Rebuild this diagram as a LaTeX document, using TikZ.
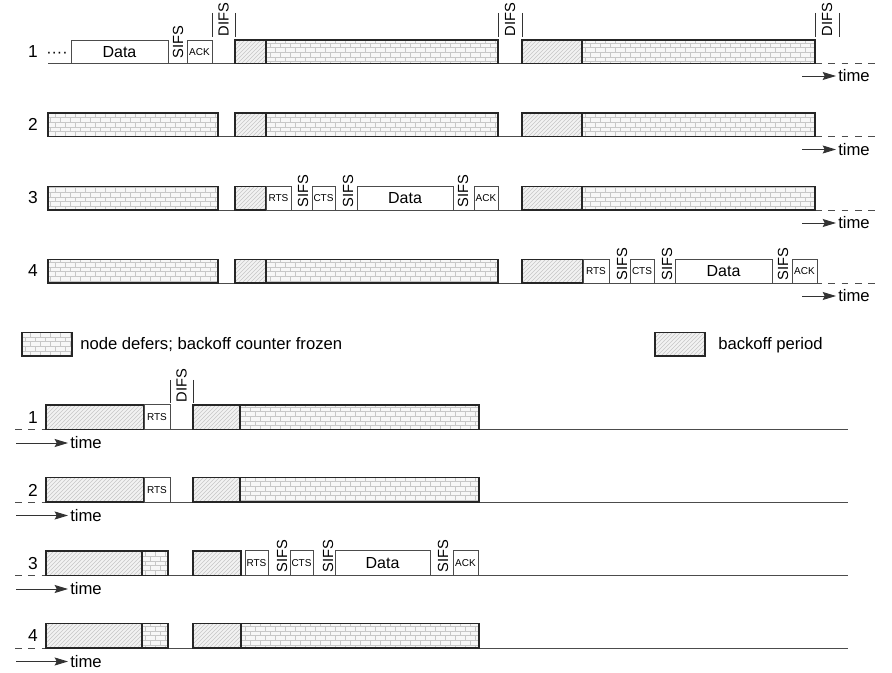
\documentclass[tikz,border=0pt]{standalone}
\usepackage{fontspec}
\setmainfont{Liberation Sans}
\usetikzlibrary{patterns,arrows.meta,positioning}
\pgfdeclarepatternformonly{brickwall}{\pgfqpoint{-0.5pt}{-0.5pt}}{\pgfqpoint{8pt}{7.5pt}}{\pgfqpoint{7.5pt}{7pt}}{%
  \pgfsetlinewidth{0.5pt}
  \pgfpathmoveto{\pgfqpoint{0pt}{0pt}}\pgfpathlineto{\pgfqpoint{7.5pt}{0pt}}
  \pgfpathmoveto{\pgfqpoint{0pt}{3.5pt}}\pgfpathlineto{\pgfqpoint{7.5pt}{3.5pt}}
  \pgfpathmoveto{\pgfqpoint{0pt}{0pt}}\pgfpathlineto{\pgfqpoint{0pt}{3.5pt}}
  \pgfpathmoveto{\pgfqpoint{3.75pt}{3.5pt}}\pgfpathlineto{\pgfqpoint{3.75pt}{7pt}}
  \pgfusepath{stroke}}

\begin{document}
\begin{tikzpicture}[x=0.75pt,y=-0.75pt,font=\fontsize{12}{14}\selectfont,
  slot/.style={anchor=south west,inner sep=0pt,outer sep=0pt,minimum height=17.5pt},
  bw/.style={minimum width={#1*0.75pt}},
  defer/.style={slot,draw=black!85,line width=1pt,preaction={fill=black!3},pattern=brickwall,pattern color=black!22},
  bkoff/.style={slot,draw=black!85,line width=1pt,preaction={fill=black!5},pattern=north east lines,pattern color=black!22},
  msg/.style={slot,draw=black!70,fill=white,line width=0.6pt},
  smalltxt/.style={font=\fontsize{7.5}{8}\selectfont},
  ifs/.style={rotate=90,anchor=west,inner sep=0.5pt,font=\fontsize{11}{12}\selectfont},
  rowno/.style={font=\fontsize{13}{14}\selectfont},
  axis/.style={draw=black!70,line width=0.7pt},
  fut/.style={axis,dash pattern=on 5pt off 5pt},
  difsbar/.style={draw=black!80,line width=0.6pt},
  tarr/.style={-{Stealth[length=10pt,width=6pt,inset=1.5pt]},draw=black!80,line width=0.7pt},
  tlbl/.style={anchor=west,inner sep=1.5pt,font=\fontsize{12.5}{14}\selectfont}]
\useasboundingbox (0,0) rectangle (892,673);

% basic access, station 1 .. 4
\begin{scope}[shift={(0,63.5)}]
\draw[axis] (48,0) -- (815,0);
\draw[fut] (815,0) -- (876,0);
\node[rowno] (n1) at (33,-12) {1};
\node[anchor=base west,inner sep=0pt] (dots1) at (46,-6) {····};
\node[msg,bw=97] (data1) at (71,0) {Data};
\node[ifs] (sifs1) at (178,-4) {SIFS};
\node[msg,smalltxt,bw=25] (ack1) at (187,0) {ACK};
\draw[difsbar] (212,-50.5) -- (212,-26.5) (235,-50.5) -- (235,-26.5);
\node[ifs] (difs1a) at (223.5,-26.5) {DIFS};
\node[bkoff,bw=31] (bo1a) at (235,0) {};
\node[defer,bw=232,right=0pt of bo1a] (fz1a) {};
\draw[difsbar] (498,-50.5) -- (498,-26.5) (522,-50.5) -- (522,-26.5);
\node[ifs] (difs1b) at (510,-26.5) {DIFS};
\node[bkoff,bw=60] (bo1b) at (522,0) {};
\node[defer,bw=233,right=0pt of bo1b] (fz1b) {};
\draw[difsbar] (815,-50.5) -- (815,-26.5) (839,-50.5) -- (839,-26.5);
\node[ifs] (difs1c) at (827,-26.5) {DIFS};
\node[tlbl] (tm1) at (836,12.5) {time};
\draw[tarr] ([xshift=-25.5pt]tm1.west) -- (tm1.west);
\end{scope}

\begin{scope}[shift={(0,136.5)}]
\draw[axis] (48,0) -- (815,0);
\draw[fut] (815,0) -- (876,0);
\node[rowno] (n2) at (33,-12) {2};
\node[defer,bw=170] (fz2a) at (48,0) {};
\node[bkoff,bw=31] (bo2a) at (235,0) {};
\node[defer,bw=232,right=0pt of bo2a] (fz2b) {};
\node[bkoff,bw=60] (bo2b) at (522,0) {};
\node[defer,bw=233,right=0pt of bo2b] (fz2c) {};
\node[tlbl] (tm2) at (836,13) {time};
\draw[tarr] ([xshift=-25.5pt]tm2.west) -- (tm2.west);
\end{scope}

\begin{scope}[shift={(0,210)}]
\draw[axis] (48,0) -- (815,0);
\draw[fut] (815,0) -- (876,0);
\node[rowno] (n3) at (33,-12) {3};
\node[defer,bw=170] (fz3a) at (48,0) {};
\node[bkoff,bw=31] (bo3a) at (235,0) {};
\node[msg,smalltxt,bw=25,right=0pt of bo3a] (rts3) {RTS};
\node[ifs] (sifs3a) at (303,-2) {SIFS};
\node[msg,smalltxt,bw=23] (cts3) at (312,0) {CTS};
\node[ifs] (sifs3b) at (348,-2) {SIFS};
\node[msg,bw=96] (data3) at (357,0) {Data};
\node[ifs] (sifs3c) at (463,-2) {SIFS};
\node[msg,smalltxt,bw=24] (ack3) at (474,0) {ACK};
\node[bkoff,bw=60] (bo3b) at (522,0) {};
\node[defer,bw=233,right=0pt of bo3b] (fz3b) {};
\node[tlbl] (tm3) at (836,13) {time};
\draw[tarr] ([xshift=-25.5pt]tm3.west) -- (tm3.west);
\end{scope}

\begin{scope}[shift={(0,283)}]
\draw[axis] (48,0) -- (815,0);
\draw[fut] (815,0) -- (876,0);
\node[rowno] (n4) at (33,-12) {4};
\node[defer,bw=170] (fz4a) at (48,0) {};
\node[bkoff,bw=31] (bo4a) at (235,0) {};
\node[defer,bw=232,right=0pt of bo4a] (fz4b) {};
\node[bkoff,bw=61] (bo4b) at (522,0) {};
\node[msg,smalltxt,bw=26,right=0pt of bo4b] (rts4) {RTS};
\node[ifs] (sifs4a) at (622,-2) {SIFS};
\node[msg,smalltxt,bw=24] (cts4) at (630,0) {CTS};
\node[ifs] (sifs4b) at (667,-2) {SIFS};
\node[msg,bw=97] (data4) at (675,0) {Data};
\node[ifs] (sifs4c) at (783,-2) {SIFS};
\node[msg,smalltxt,bw=25] (ack4) at (792,0) {ACK};
\node[tlbl] (tm4) at (836,13) {time};
\draw[tarr] ([xshift=-25.5pt]tm4.west) -- (tm4.west);
\end{scope}

% legend
\node[defer,bw=50] (legfz) at (22,356) {};
\node[anchor=west,inner sep=0pt,font=\fontsize{12.5}{14}\selectfont] (legfzt) at (80,345) {node defers; backoff counter frozen};
\node[bkoff,bw=50] (legbo) at (655,356) {};
\node[anchor=west,inner sep=0pt,font=\fontsize{12.5}{14}\selectfont] (legbot) at (718,345) {backoff period};

% RTS/CTS access, station 1 .. 4
\begin{scope}[shift={(0,429.5)},slot/.append style={minimum height=18.5pt}]
\draw[fut] (15,0) -- (46,0);
\draw[axis] (46,0) -- (848,0);
\node[rowno] (m1) at (33,-12) {1};
\node[bkoff,bw=98] (bo5a) at (46,0) {};
\node[msg,smalltxt,bw=26,right=0pt of bo5a] (rts5) {RTS};
\draw[difsbar] (170,-49.5) -- (170,-26.5) (193,-49.5) -- (193,-26.5);
\node[ifs] (difs5) at (181.5,-26.5) {DIFS};
\node[bkoff,bw=47] (bo5b) at (193,0) {};
\node[defer,bw=239,right=0pt of bo5b] (fz5) {};
\node[tlbl] (tm5) at (68,13.5) {time};
\draw[tarr] ([xshift=-39pt]tm5.west) -- (tm5.west);
\end{scope}

\begin{scope}[shift={(0,502)},slot/.append style={minimum height=18.5pt}]
\draw[fut] (15,0) -- (46,0);
\draw[axis] (46,0) -- (848,0);
\node[rowno] (m2) at (33,-12) {2};
\node[bkoff,bw=98] (bo6a) at (46,0) {};
\node[msg,smalltxt,bw=26,right=0pt of bo6a] (rts6) {RTS};
\node[bkoff,bw=47] (bo6b) at (193,0) {};
\node[defer,bw=239,right=0pt of bo6b] (fz6) {};
\node[tlbl] (tm6) at (68,13.5) {time};
\draw[tarr] ([xshift=-39pt]tm6.west) -- (tm6.west);
\end{scope}

\begin{scope}[shift={(0,575.5)},slot/.append style={minimum height=18.5pt}]
\draw[fut] (15,0) -- (46,0);
\draw[axis] (46,0) -- (848,0);
\node[rowno] (m3) at (33,-12) {3};
\node[bkoff,bw=96] (bo7a) at (46,0) {};
\node[defer,bw=26,right=0pt of bo7a] (fz7a) {};
\node[bkoff,bw=48] (bo7b) at (193,0) {};
\node[msg,smalltxt,bw=23] (rts7) at (245,0) {RTS};
\node[ifs] (sifs7a) at (282,-2) {SIFS};
\node[msg,smalltxt,bw=23] (cts7) at (290,0) {CTS};
\node[ifs] (sifs7b) at (328,-2) {SIFS};
\node[msg,bw=95] (data7) at (335,0) {Data};
\node[ifs] (sifs7c) at (443,-2) {SIFS};
\node[msg,smalltxt,bw=25] (ack7) at (453,0) {ACK};
\node[tlbl] (tm7) at (68,13.5) {time};
\draw[tarr] ([xshift=-39pt]tm7.west) -- (tm7.west);
\end{scope}

\begin{scope}[shift={(0,648)},slot/.append style={minimum height=18.5pt}]
\draw[fut] (15,0) -- (46,0);
\draw[axis] (46,0) -- (848,0);
\node[rowno] (m4) at (33,-12) {4};
\node[bkoff,bw=96] (bo8a) at (46,0) {};
\node[defer,bw=26,right=0pt of bo8a] (fz8a) {};
\node[bkoff,bw=48] (bo8b) at (193,0) {};
\node[defer,bw=238,right=0pt of bo8b] (fz8b) {};
\node[tlbl] (tm8) at (68,13.5) {time};
\draw[tarr] ([xshift=-39pt]tm8.west) -- (tm8.west);
\end{scope}
\end{tikzpicture}
\end{document}
